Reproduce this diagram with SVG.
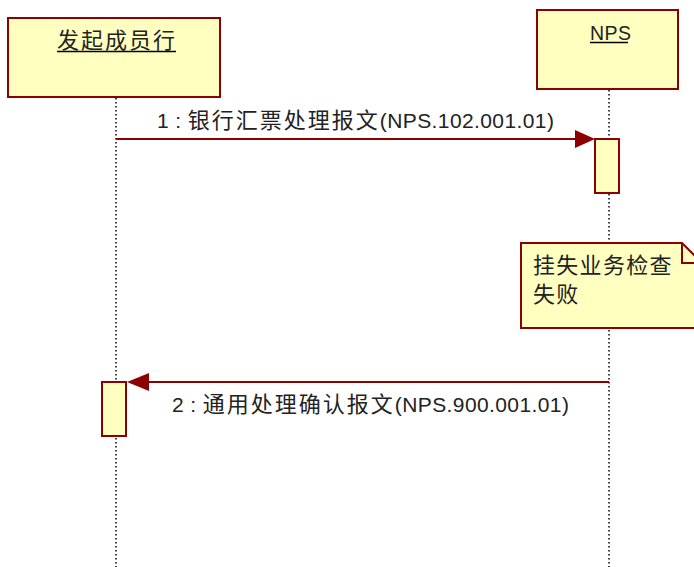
<svg xmlns="http://www.w3.org/2000/svg" width="694" height="567" viewBox="0 0 694 567">
<style>
.box{fill:#ffffc0;stroke:#8b0000;stroke-width:2}
.life{stroke:#000;stroke-width:1.5;stroke-dasharray:1.5 2.5;fill:none}
.msg{stroke:#8b0000;stroke-width:2;fill:none}
.head{fill:#8b0000}
.t{font-family:"Liberation Sans","Noto Sans CJK SC",sans-serif;font-size:21px;fill:#222;letter-spacing:0.4px}
.c{font-family:"Noto Sans CJK SC",sans-serif;font-size:22px;letter-spacing:2px}
.u{stroke:#000;stroke-width:1.5}
</style>
<rect width="694" height="567" fill="#fff"/>
<g id="lifelines">
<line class="life" x1="116" y1="98" x2="116" y2="567"/>
<line class="life" x1="609" y1="90" x2="609" y2="567"/>
</g>
<g id="actor-initiator">
<rect class="box" x="8" y="18" width="212" height="79"/>
<text class="t" x="57" y="48"><tspan class="c">发起成员行</tspan></text>
<line class="u" x1="57" y1="51.5" x2="176" y2="51.5"/>
</g>
<g id="actor-nps">
<rect class="box" x="537" y="10" width="141" height="79"/>
<text class="t" x="590" y="40" style="font-size:19.5px">NPS</text>
<line class="u" x1="590" y1="42.5" x2="628" y2="42.5"/>
</g>
<g id="activation-nps">
<rect class="box" x="595" y="139" width="24" height="54"/>
</g>
<g id="activation-initiator">
<rect class="box" x="102" y="382" width="24" height="54"/>
</g>
<g id="note">
<path class="box" d="M521,243 H682 L702,263 V328 H521 Z"/>
<path d="M682,243 V263 H702" fill="none" stroke="#8b0000" stroke-width="2"/>
<text class="t" x="533" y="273"><tspan class="c" style="letter-spacing:1.3px">挂失业务检查</tspan></text>
<text class="t" x="533" y="302"><tspan class="c" style="letter-spacing:1.3px">失败</tspan></text>
</g>
<g id="connectors">
<line class="msg" x1="116" y1="139" x2="577" y2="139"/>
<polygon class="head" points="575,130 595,139 575,148"/>
<text class="t" x="157" y="128">1 : <tspan class="c">银行汇票处理报文</tspan>(NPS.102.001.01)</text>
<line class="msg" x1="609" y1="382" x2="147" y2="382"/>
<polygon class="head" points="149,373 127,382 149,391"/>
<text class="t" x="172" y="412">2 : <tspan class="c">通用处理确认报文</tspan>(NPS.900.001.01)</text>
</g>
</svg>
